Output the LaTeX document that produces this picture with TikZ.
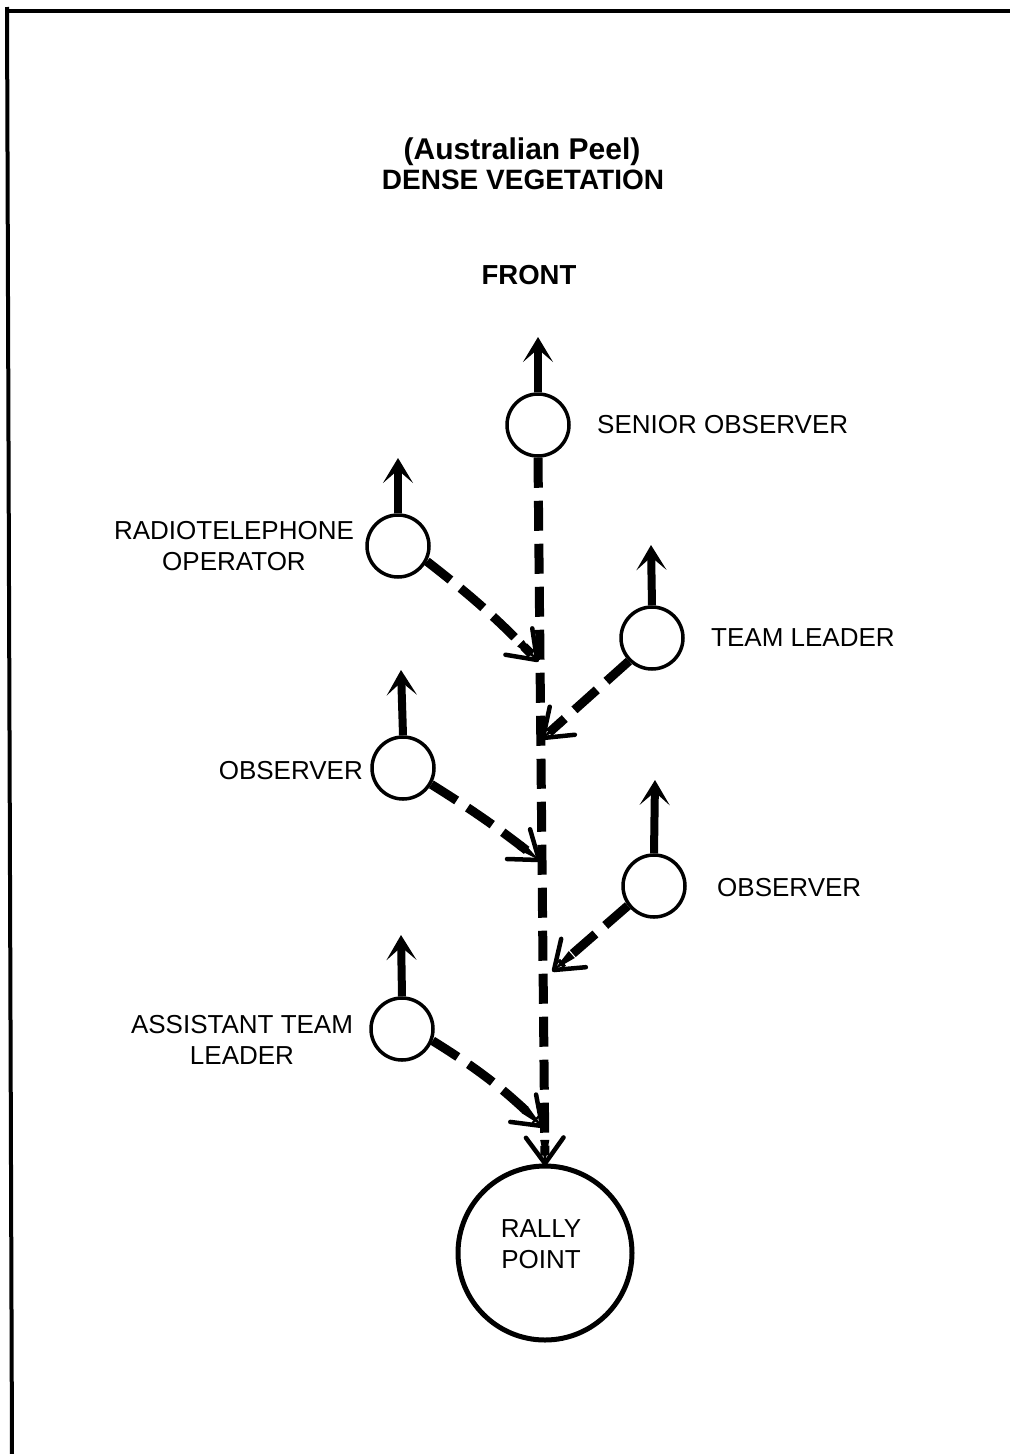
\documentclass[tikz,border=0pt]{standalone}
\usepackage{fontspec}
\setmainfont{Liberation Sans}
\usetikzlibrary{arrows.meta,calc}
\newcommand\mybarb[2]{%
 \fill ($(#1)!24pt!11:(#2)$) -- (#1) -- ($(#1)!24pt!-11:(#2)$) -- cycle;
 \draw[line width=4.5pt,line cap=round,line join=round] ($(#1)!32pt!36:(#2)$) -- (#1) -- ($(#1)!32pt!-36:(#2)$);}
\begin{document}
\begin{tikzpicture}[x=1pt,y=-1pt,
 person/.style={circle,draw,line width=3.5pt,minimum size=62pt,inner sep=0pt},
 lbl/.style={font=\fontsize{26}{31}\selectfont,inner sep=0pt,align=center},
 ttl/.style={font=\bfseries\fontsize{28}{28}\selectfont,inner sep=0pt,align=center},
 facing/.style={line width=8pt,-{Stealth[length=25pt,width=30pt,inset=13pt]}},
 peel/.style={line width=9pt,dash pattern=on 30pt off 13pt,shorten >=8pt},
]
\useasboundingbox (0,0) rectangle (1010,1454);
\fill[white] (0,0) rectangle (1010,1454);
% frame
\draw[line width=3.5pt] (5,11) -- (1010,11);
\draw[line width=4pt] (7,7) -- (12,1454);
% titles
\node[ttl,font=\bfseries\fontsize{30}{30}\selectfont] (t1) at (522,152) {(Australian Peel)};
\node[ttl] (t2) at (523,180) {DENSE VEGETATION};
\node[ttl,font=\bfseries\fontsize{27.5}{28}\selectfont] (front) at (529,275) {FRONT};
% members
\node[person] (so) at (538,425) {};
\node[person] (rto) at (398,546) {};
\node[person] (tl) at (652,638) {};
\node[person] (ol) at (403,768) {};
\node[person] (or) at (654,886) {};
\node[person] (atl) at (402,1029) {};
\node[circle,draw,line width=5pt,minimum size=174pt,inner sep=0pt] (rally) at (545,1253) {};
\node[lbl] (rallylab) at (541,1244) {RALLY\\POINT};
% labels
\node[lbl,anchor=west] (solab) at (597,425) {SENIOR OBSERVER};
\node[lbl] (rtolab) at (234,546) {RADIOTELEPHONE\\OPERATOR};
\node[lbl,anchor=west] (tllab) at (711,638) {TEAM LEADER};
\node[lbl,anchor=east] (ollab) at (363,771) {OBSERVER};
\node[lbl,anchor=west] (orlab) at (717,888) {OBSERVER};
\node[lbl] (atllab) at (242,1040) {ASSISTANT TEAM\\LEADER};
% facing arrows
\coordinate (soup) at (538,337);
\coordinate (rtoup) at (398,458);
\coordinate (tlup) at (651,545);
\coordinate (olup) at (401,670);
\coordinate (orup) at (655,780);
\coordinate (atlup) at (401,935);
\draw[facing] (so.north) -- (soup);
\draw[facing] (rto.north) -- (rtoup);
\draw[facing] (tl.north) -- (tlup);
\draw[facing] (ol.north) -- (olup);
\draw[facing] (or.north) -- (orup);
\draw[facing] (atl.north) -- (atlup);
% peel lines
\coordinate (rtotip) at (537,660);
\coordinate (tltip) at (543,738);
\coordinate (oltip) at (539,860);
\coordinate (ortip) at (554,970);
\coordinate (atltip) at (542,1126);
\draw[peel] (so.south) -- (rally.north);
\draw[peel] (rto.-28) to[bend left=4] coordinate[pos=0.85] (rtonear) (rtotip);
\draw[peel] (tl.225) -- (tltip);
\draw[peel] (ol.-30) to[bend left=3] coordinate[pos=0.85] (olnear) (oltip);
\draw[peel] (or.217) -- (ortip);
\draw[peel] (atl.-21) to[bend left=6] coordinate[pos=0.85] (atlnear) (atltip);
% arrow heads
\mybarb{rally.north}{so.south}
\mybarb{rtotip}{rtonear}
\mybarb{tltip}{tl.225}
\mybarb{oltip}{olnear}
\mybarb{ortip}{or.217}
\mybarb{atltip}{atlnear}
\end{tikzpicture}
\end{document}
